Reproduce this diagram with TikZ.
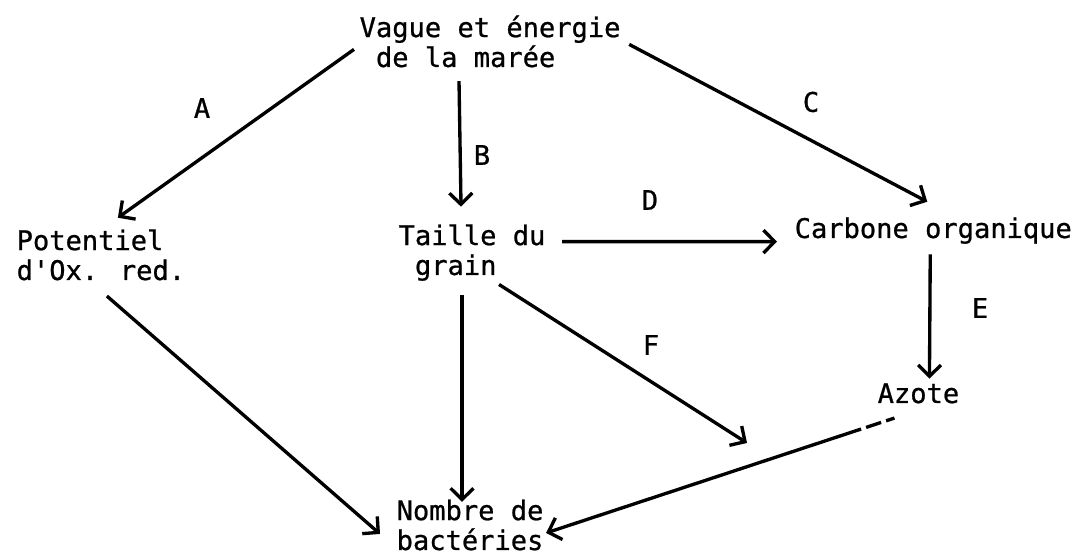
\documentclass[tikz,border=0pt]{standalone}
\usepackage{fontspec}
\newfontfamily\machine[FakeBold=0.8]{DejaVu Sans Mono}
\usepackage{tikz}
\usetikzlibrary{arrows.meta,calc}

\begin{document}
\begin{tikzpicture}[x=.01cm,y=-.01cm,>={Straight Barb[length=3.2pt,width=6.5pt]},line width=.95pt,
  every node/.style={font=\machine\fontsize{7.7}{8.5}\selectfont,inner sep=0pt},
  var/.style={align=left,anchor=base west}]
\useasboundingbox (0,0) rectangle (1074,559);
% variables (anchor on the last line)
\node[var] (vague) at (358,67) {Vague et énergie\\\phantom{d}de la marée};
\node[var] (potentiel) at (15,280) {Potentiel\\d'Ox. red.};
\node[var] (taille) at (397,275) {Taille du\\\phantom{g}grain};
\node[var] (carbone) at (793,238) {Carbone organique};
\node[var] (azote) at (876,403) {Azote};
\node[var] (nombre) at (395,550) {Nombre de\\bactéries};
\coordinate (fend) at (747,443);
% links
\draw[->] ($(vague.west)+(-4,8)$) -- ($(potentiel.north)+(17,-10)$);
\draw[->] ($(vague.south west)+(101,12)$) -- ($(taille.north)+(-11,-16)$);
\draw[->] ($(vague.east)+(7,3)$) -- ($(carbone.north)+(-6,-14)$);
\draw[->] ($(taille.east)+(15,-11)$) -- ($(carbone.west)+(-16,11)$);
\draw[->] ($(carbone.south)+(-3,9)$) -- ($(azote.north)+(11,-3)$);
\draw[->] ($(taille.south)+(27,2)$) -- (fend);
\draw[->] ($(taille.south)+(-10,13)$) -- ($(nombre.north)+(-8,4)$);
\draw[->] ($(potentiel.south)+(6,14)$) -- ($(nombre.west)+(-15,9)$);
\draw[->,dash pattern=on 2.5pt off 1.5pt on 4.5pt off 1.5pt on 150pt] ($(azote.south)+(-24,13)$) -- ($(nombre.east)+(1,8)$);
% letters
\node (la) at (202,108) {A};
\node (lb) at (482,155) {B};
\node (lc) at (811,102) {C};
\node (ld) at (650,200) {D};
\node (le) at (980,308) {E};
\node (lf) at (651,345) {F};
\end{tikzpicture}
\end{document}
